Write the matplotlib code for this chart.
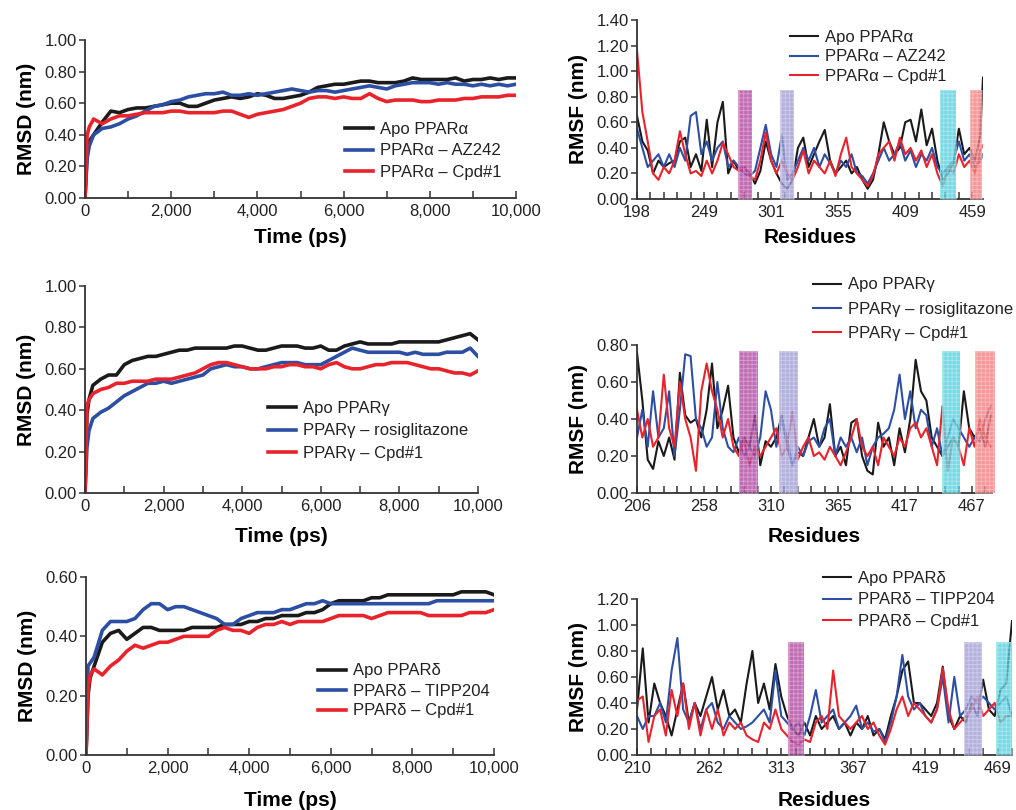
import matplotlib
matplotlib.use("Agg")
import matplotlib.pyplot as plt
from matplotlib.patches import Rectangle
from matplotlib.ticker import MultipleLocator, FixedLocator, FuncFormatter

plt.rcParams['font.family'] = ['Liberation Sans', 'DejaVu Sans']
plt.rcParams['hatch.linewidth'] = 0.6

# ---------------- RMSD data (time in ps) ----------------
t_rmsd = [0, 50, 100, 200, 400, 600, 800, 1000, 1200, 1400,
          1600, 1800, 2000, 2200, 2400, 2600, 2800, 3000, 3200, 3400,
          3600, 3800, 4000, 4200, 4400, 4600, 4800, 5000, 5200, 5400,
          5600, 5800, 6000, 6200, 6400, 6600, 6800, 7000, 7200, 7400,
          7600, 7800, 8000, 8200, 8400, 8600, 8800, 9000, 9200, 9400,
          9600, 9800, 10000]

rmsd_a_apo = [0.00, 0.30, 0.36, 0.40, 0.48, 0.55, 0.54, 0.56, 0.57, 0.57,
              0.58, 0.59, 0.60, 0.60, 0.58, 0.58, 0.60, 0.62, 0.63, 0.64,
              0.63, 0.64, 0.66, 0.65, 0.63, 0.63, 0.64, 0.65, 0.67, 0.70,
              0.71, 0.72, 0.72, 0.73, 0.74, 0.74, 0.73, 0.73, 0.73, 0.74,
              0.76, 0.75, 0.75, 0.75, 0.75, 0.76, 0.74, 0.75, 0.75, 0.76,
              0.75, 0.76, 0.76]
rmsd_a_lig = [0.00, 0.25, 0.33, 0.40, 0.44, 0.45, 0.47, 0.50, 0.52, 0.55,
              0.58, 0.59, 0.61, 0.62, 0.64, 0.65, 0.66, 0.66, 0.67, 0.65,
              0.65, 0.66, 0.65, 0.66, 0.67, 0.68, 0.69, 0.68, 0.67, 0.68,
              0.68, 0.67, 0.68, 0.69, 0.70, 0.71, 0.70, 0.69, 0.71, 0.72,
              0.73, 0.73, 0.73, 0.72, 0.73, 0.72, 0.72, 0.71, 0.72, 0.71,
              0.72, 0.71, 0.72]
rmsd_a_cpd = [0.00, 0.40, 0.45, 0.50, 0.47, 0.50, 0.52, 0.52, 0.53, 0.54,
              0.54, 0.54, 0.55, 0.55, 0.54, 0.54, 0.54, 0.54, 0.55, 0.55,
              0.53, 0.51, 0.53, 0.54, 0.55, 0.56, 0.58, 0.60, 0.63, 0.64,
              0.64, 0.63, 0.64, 0.63, 0.63, 0.66, 0.63, 0.61, 0.62, 0.62,
              0.62, 0.61, 0.61, 0.62, 0.62, 0.62, 0.63, 0.63, 0.64, 0.64,
              0.64, 0.65, 0.65]

rmsd_g_apo = [0.00, 0.38, 0.45, 0.52, 0.55, 0.57, 0.57, 0.62, 0.64, 0.65,
              0.66, 0.66, 0.67, 0.68, 0.69, 0.69, 0.70, 0.70, 0.70, 0.70,
              0.70, 0.71, 0.71, 0.70, 0.69, 0.69, 0.70, 0.71, 0.71, 0.71,
              0.70, 0.70, 0.71, 0.69, 0.69, 0.71, 0.72, 0.73, 0.72, 0.72,
              0.72, 0.72, 0.73, 0.73, 0.73, 0.73, 0.73, 0.73, 0.74, 0.75,
              0.76, 0.77, 0.74]
rmsd_g_lig = [0.00, 0.22, 0.30, 0.36, 0.39, 0.41, 0.44, 0.47, 0.49, 0.51,
              0.53, 0.53, 0.54, 0.53, 0.54, 0.55, 0.56, 0.57, 0.60, 0.61,
              0.62, 0.61, 0.61, 0.60, 0.60, 0.61, 0.62, 0.63, 0.63, 0.63,
              0.62, 0.62, 0.62, 0.64, 0.66, 0.68, 0.70, 0.69, 0.68, 0.68,
              0.68, 0.68, 0.68, 0.67, 0.68, 0.67, 0.67, 0.67, 0.68, 0.68,
              0.68, 0.70, 0.66]
rmsd_g_cpd = [0.00, 0.42, 0.45, 0.48, 0.50, 0.51, 0.53, 0.53, 0.54, 0.54,
              0.54, 0.55, 0.55, 0.55, 0.56, 0.57, 0.58, 0.60, 0.62, 0.63,
              0.63, 0.62, 0.61, 0.60, 0.60, 0.60, 0.61, 0.61, 0.62, 0.62,
              0.61, 0.61, 0.60, 0.62, 0.63, 0.61, 0.60, 0.60, 0.61, 0.62,
              0.62, 0.63, 0.63, 0.63, 0.62, 0.61, 0.60, 0.60, 0.59, 0.58,
              0.58, 0.57, 0.59]

rmsd_d_apo = [0.00, 0.20, 0.26, 0.30, 0.38, 0.41, 0.42, 0.39, 0.41, 0.43,
              0.43, 0.42, 0.42, 0.42, 0.42, 0.43, 0.43, 0.43, 0.43, 0.44,
              0.44, 0.44, 0.45, 0.45, 0.46, 0.46, 0.47, 0.47, 0.47, 0.48,
              0.48, 0.49, 0.51, 0.52, 0.52, 0.52, 0.52, 0.53, 0.53, 0.54,
              0.54, 0.54, 0.54, 0.54, 0.54, 0.54, 0.54, 0.54, 0.55, 0.55,
              0.55, 0.55, 0.54]
rmsd_d_lig = [0.00, 0.30, 0.31, 0.33, 0.42, 0.45, 0.45, 0.45, 0.46, 0.49,
              0.51, 0.51, 0.49, 0.50, 0.50, 0.49, 0.48, 0.47, 0.46, 0.44,
              0.44, 0.46, 0.47, 0.48, 0.48, 0.48, 0.49, 0.49, 0.50, 0.51,
              0.51, 0.52, 0.51, 0.51, 0.51, 0.51, 0.51, 0.51, 0.51, 0.51,
              0.51, 0.51, 0.51, 0.51, 0.51, 0.52, 0.52, 0.52, 0.52, 0.52,
              0.52, 0.52, 0.52]
rmsd_d_cpd = [0.00, 0.22, 0.27, 0.29, 0.27, 0.30, 0.32, 0.35, 0.37, 0.36,
              0.37, 0.38, 0.38, 0.39, 0.40, 0.40, 0.40, 0.40, 0.42, 0.43,
              0.42, 0.42, 0.41, 0.43, 0.44, 0.44, 0.45, 0.44, 0.45, 0.45,
              0.45, 0.45, 0.46, 0.47, 0.47, 0.47, 0.47, 0.46, 0.47, 0.48,
              0.48, 0.48, 0.48, 0.48, 0.47, 0.47, 0.47, 0.47, 0.47, 0.48,
              0.48, 0.48, 0.49]

# ---------------- RMSF data (residue index along the chain) ----------------
idx_a = list(range(0, 257, 4)) + [258]
rmsf_a_apo = [0.65, 0.45, 0.38, 0.20, 0.30, 0.25, 0.28, 0.30, 0.45, 0.48,
              0.25, 0.35, 0.22, 0.62, 0.25, 0.60, 0.76, 0.20, 0.30, 0.22,
              0.25, 0.20, 0.12, 0.22, 0.45, 0.30, 0.20, 0.12, 0.08, 0.15,
              0.40, 0.48, 0.25, 0.35, 0.45, 0.54, 0.30, 0.20, 0.25, 0.30,
              0.20, 0.25, 0.15, 0.08, 0.15, 0.35, 0.60, 0.45, 0.35, 0.40,
              0.60, 0.62, 0.45, 0.70, 0.42, 0.55, 0.30, 0.15, 0.20, 0.28,
              0.55, 0.35, 0.40, 0.30, 0.50, 0.95]
rmsf_a_lig = [0.55, 0.40, 0.25, 0.30, 0.35, 0.25, 0.35, 0.25, 0.40, 0.30,
              0.65, 0.68, 0.35, 0.45, 0.30, 0.40, 0.45, 0.25, 0.30, 0.25,
              0.20, 0.18, 0.22, 0.40, 0.58, 0.35, 0.25, 0.50, 0.15, 0.20,
              0.30, 0.40, 0.30, 0.40, 0.25, 0.35, 0.28, 0.20, 0.30, 0.25,
              0.35, 0.20, 0.18, 0.12, 0.20, 0.30, 0.40, 0.30, 0.35, 0.45,
              0.30, 0.38, 0.25, 0.35, 0.30, 0.40, 0.25, 0.20, 0.25, 0.30,
              0.45, 0.30, 0.35, 0.25, 0.30, 0.35]
rmsf_a_cpd = [1.16, 0.68, 0.45, 0.20, 0.15, 0.25, 0.20, 0.30, 0.53, 0.35,
              0.20, 0.22, 0.18, 0.30, 0.20, 0.30, 0.44, 0.35, 0.25, 0.22,
              0.25, 0.18, 0.15, 0.30, 0.52, 0.30, 0.20, 0.30, 0.20, 0.15,
              0.25, 0.38, 0.20, 0.30, 0.25, 0.20, 0.30, 0.18, 0.35, 0.48,
              0.25, 0.20, 0.15, 0.10, 0.18, 0.35, 0.40, 0.45, 0.30, 0.48,
              0.35, 0.40, 0.30, 0.38, 0.25, 0.35, 0.20, 0.10, 0.25, 0.20,
              0.35, 0.25, 0.30, 0.20, 0.38, 0.42]

idx_g = list(range(0, 265, 4))
rmsf_g_apo = [0.76, 0.50, 0.18, 0.13, 0.28, 0.20, 0.30, 0.18, 0.65, 0.42,
              0.38, 0.40, 0.30, 0.45, 0.70, 0.35, 0.45, 0.58, 0.30, 0.22,
              0.30, 0.25, 0.42, 0.15, 0.28, 0.25, 0.30, 0.42, 0.25, 0.15,
              0.22, 0.20, 0.30, 0.40, 0.25, 0.30, 0.48, 0.20, 0.25, 0.15,
              0.38, 0.40, 0.20, 0.12, 0.10, 0.38, 0.25, 0.30, 0.15, 0.35,
              0.22, 0.40, 0.72, 0.55, 0.50, 0.30, 0.25, 0.20, 0.25, 0.30,
              0.25, 0.55, 0.35, 0.30, 0.35, 0.25, 0.42]
rmsf_g_lig = [0.30, 0.45, 0.25, 0.55, 0.30, 0.35, 0.55, 0.20, 0.45, 0.75,
              0.74, 0.40, 0.35, 0.25, 0.30, 0.60, 0.35, 0.25, 0.22, 0.30,
              0.20, 0.25, 0.20, 0.30, 0.55, 0.45, 0.25, 0.40, 0.30, 0.15,
              0.25, 0.20, 0.28, 0.30, 0.25, 0.35, 0.40, 0.20, 0.30, 0.25,
              0.30, 0.22, 0.30, 0.15, 0.25, 0.30, 0.32, 0.35, 0.45, 0.64,
              0.40, 0.55, 0.35, 0.45, 0.42, 0.25, 0.35, 0.20, 0.30, 0.40,
              0.35, 0.30, 0.25, 0.30, 0.28, 0.40, 0.47]
rmsf_g_cpd = [0.45, 0.30, 0.40, 0.25, 0.30, 0.64, 0.35, 0.25, 0.60, 0.40,
              0.30, 0.12, 0.55, 0.70, 0.55, 0.45, 0.30, 0.40, 0.25, 0.20,
              0.28, 0.15, 0.25, 0.20, 0.25, 0.30, 0.35, 0.20, 0.25, 0.44,
              0.18, 0.25, 0.30, 0.20, 0.22, 0.18, 0.25, 0.20, 0.15, 0.22,
              0.30, 0.40, 0.25, 0.20, 0.25, 0.15, 0.30, 0.25, 0.20, 0.30,
              0.25, 0.35, 0.38, 0.30, 0.35, 0.25, 0.15, 0.47, 0.12, 0.30,
              0.25, 0.15, 0.35, 0.25, 0.40, 0.30, 0.25]

idx_d = list(range(0, 261, 4))
rmsf_d_apo = [0.35, 0.82, 0.25, 0.55, 0.40, 0.30, 0.15, 0.35, 0.55, 0.25,
              0.40, 0.30, 0.45, 0.60, 0.35, 0.50, 0.30, 0.35, 0.25, 0.55,
              0.80, 0.40, 0.55, 0.35, 0.70, 0.45, 0.30, 0.20, 0.15, 0.25,
              0.15, 0.30, 0.20, 0.25, 0.30, 0.20, 0.25, 0.15, 0.25, 0.20,
              0.30, 0.15, 0.20, 0.12, 0.30, 0.45, 0.65, 0.72, 0.40, 0.40,
              0.35, 0.30, 0.40, 0.68, 0.30, 0.20, 0.30, 0.25, 0.40, 0.30,
              0.58, 0.35, 0.30, 0.50, 0.55, 1.03]
rmsf_d_lig = [0.30, 0.20, 0.30, 0.30, 0.40, 0.25, 0.65, 0.90, 0.35, 0.25,
              0.40, 0.20, 0.35, 0.40, 0.25, 0.20, 0.30, 0.25, 0.20, 0.22,
              0.25, 0.30, 0.35, 0.25, 0.65, 0.30, 0.25, 0.20, 0.25, 0.15,
              0.30, 0.50, 0.25, 0.30, 0.35, 0.20, 0.25, 0.30, 0.38, 0.20,
              0.25, 0.18, 0.20, 0.10, 0.25, 0.45, 0.77, 0.45, 0.35, 0.40,
              0.30, 0.25, 0.35, 0.60, 0.25, 0.60, 0.30, 0.35, 0.45, 0.40,
              0.45, 0.40, 0.35, 0.40, 0.45, 0.30]
rmsf_d_cpd = [0.42, 0.45, 0.10, 0.30, 0.35, 0.15, 0.50, 0.30, 0.55, 0.20,
              0.40, 0.15, 0.35, 0.20, 0.35, 0.15, 0.25, 0.20, 0.25, 0.15,
              0.12, 0.10, 0.25, 0.20, 0.35, 0.20, 0.15, 0.10, 0.08, 0.12,
              0.10, 0.25, 0.30, 0.20, 0.65, 0.30, 0.25, 0.20, 0.25, 0.30,
              0.20, 0.25, 0.15, 0.08, 0.20, 0.35, 0.45, 0.30, 0.40, 0.35,
              0.30, 0.25, 0.35, 0.67, 0.35, 0.20, 0.25, 0.30, 0.35, 0.45,
              0.30, 0.35, 0.40, 0.25, 0.30, 0.30]

# residue labels at every 50th position along the chain
res_labels_a = ['198', '249', '301', '355', '409', '459']
res_labels_g = ['206', '258', '310', '365', '417', '467']
res_labels_d = ['210', '262', '313', '367', '419', '469']

# highlighted regions (start, end index)
boxes_a = [(75, 86), (107, 117), (226, 238), (248, 257)]
boxes_g = [(76, 90), (106, 120), (228, 241), (252, 267)]
boxes_d = [(105, 116), (227, 239), (249, 260)]
box_colors_a = ['#b0449f', '#9f9bd6', '#55cfdd', '#f07c7c']
box_colors_g = ['#b0449f', '#9f9bd6', '#55cfdd', '#f07c7c']
box_colors_d = ['#b0449f', '#9f9bd6', '#55cfdd']

labels_a = ['Apo PPARα', 'PPARα – AZ242', 'PPARα – Cpd#1']
labels_g = ['Apo PPARγ', 'PPARγ – rosiglitazone', 'PPARγ – Cpd#1']
labels_d = ['Apo PPARδ', 'PPARδ – TIPP204', 'PPARδ – Cpd#1']

BLACK = '#1a1a1a'
BLUE = '#2d4fa3'
RED = '#e8232b'
AXC = '#333333'

W, H = 1016, 810
fig = plt.figure(figsize=(W / 100, H / 100), dpi=100)


def make_ax(left, right, top, bottom):
    return fig.add_axes([left / W, 1 - bottom / H, (right - left) / W, (bottom - top) / H])


def style(ax):
    for s in ['top', 'right']:
        ax.spines[s].set_visible(False)
    for s in ['left', 'bottom']:
        ax.spines[s].set_color(AXC)
        ax.spines[s].set_linewidth(1.3)
    ax.tick_params(axis='y', direction='out', length=4, width=1.1, colors=AXC,
                   labelsize=12, labelcolor='#222222', pad=2)
    ax.tick_params(axis='x', which='both', direction='in', length=5, width=1.1,
                   colors=AXC, labelsize=12, labelcolor='#222222', pad=4)
    ax.yaxis.set_major_formatter(FuncFormatter(lambda v, p: f'{v:.2f}'))


def add_legend(ax, labels, x_px, y_px, spacing):
    leg = ax.legend(labels, loc='center left', frameon=False, fontsize=12,
                    handlelength=1.65, handletextpad=0.45, labelspacing=spacing,
                    borderpad=0, borderaxespad=0,
                    bbox_to_anchor=(x_px / W, 1 - y_px / H),
                    bbox_transform=fig.transFigure)
    for txt in leg.get_texts():
        txt.set_color('#222222')
    return leg


def rmsd_panel(ax, apo, lig, cpd, ymax, labels, leg_pos, spacing, lpad):
    ax.plot(t_rmsd, apo, color=BLACK, lw=2.6)
    ax.plot(t_rmsd, lig, color=BLUE, lw=2.6)
    ax.plot(t_rmsd, cpd, color=RED, lw=2.6)
    ax.set_xlim(0, 10000)
    ax.set_ylim(0, ymax)
    ax.xaxis.set_major_locator(MultipleLocator(2000))
    ax.xaxis.set_minor_locator(MultipleLocator(1000))
    ax.xaxis.set_major_formatter(FuncFormatter(lambda v, p: f'{int(v):,}'))
    ax.yaxis.set_major_locator(MultipleLocator(0.2))
    style(ax)
    ax.set_ylabel('RMSD (nm)', fontsize=15, fontweight='bold', labelpad=6)
    ax.set_xlabel('Time (ps)', fontsize=15, fontweight='bold', labelpad=lpad)
    add_legend(ax, labels, leg_pos[0], leg_pos[1], spacing)


def rmsf_panel(ax, idx, apo, lig, cpd, xmax, ymax, ticklabels, boxes, colors, box_top,
               labels, leg_pos, spacing, lpad):
    ax.plot(idx, apo, color=BLACK, lw=1.5)
    ax.plot(idx, lig, color=BLUE, lw=1.5)
    ax.plot(idx, cpd, color=RED, lw=1.5)
    for (x0, x1), c in zip(boxes, colors):
        ax.add_patch(Rectangle((x0, 0), x1 - x0, box_top, facecolor=c, alpha=0.78,
                               edgecolor='none', zorder=3, clip_on=False))
        ax.add_patch(Rectangle((x0, 0), x1 - x0, box_top, facecolor='none',
                               edgecolor=(1, 1, 1, 0.35), hatch='++++', lw=0.6,
                               zorder=3.1, clip_on=False))
    ax.set_xlim(0, xmax)
    ax.set_ylim(0, ymax)
    ax.xaxis.set_major_locator(FixedLocator([0, 50, 100, 150, 200, 250]))
    ax.set_xticklabels(ticklabels)
    ax.xaxis.set_minor_locator(MultipleLocator(10))
    ax.yaxis.set_major_locator(MultipleLocator(0.2))
    style(ax)
    ax.set_ylabel('RMSF (nm)', fontsize=15, fontweight='bold', labelpad=6)
    ax.set_xlabel('Residues', fontsize=15, fontweight='bold', labelpad=lpad)
    add_legend(ax, labels, leg_pos[0], leg_pos[1], spacing)


ax1 = make_ax(85, 516, 40, 198)
rmsd_panel(ax1, rmsd_a_apo, rmsd_a_lig, rmsd_a_cpd, 1.0, labels_a, (345, 151), 0.4, 7)

ax2 = make_ax(637, 983, 20, 199)
rmsf_panel(ax2, idx_a, rmsf_a_apo, rmsf_a_lig, rmsf_a_cpd, 258, 1.4, res_labels_a,
           boxes_a, box_colors_a, 0.85, labels_a, (790, 57), 0.25, 6)

ax3 = make_ax(85, 478, 286, 493)
rmsd_panel(ax3, rmsd_g_apo, rmsd_g_lig, rmsd_g_cpd, 1.0, labels_g, (268, 431), 0.45, 10)

ax4 = make_ax(637, 992, 345, 493)
rmsf_panel(ax4, idx_g, rmsf_g_apo, rmsf_g_lig, rmsf_g_cpd, 265, 0.8, res_labels_g,
           boxes_g, box_colors_g, 0.77, labels_g, (813, 309), 0.55, 10)

ax5 = make_ax(86, 494, 577, 755)
rmsd_panel(ax5, rmsd_d_apo, rmsd_d_lig, rmsd_d_cpd, 0.6, labels_d, (318, 691), 0.3, 11)

ax6 = make_ax(637, 1012, 599, 755)
rmsf_panel(ax6, idx_d, rmsf_d_apo, rmsf_d_lig, rmsf_d_cpd, 260, 1.2, res_labels_d,
           boxes_d, box_colors_d, 0.87, labels_d, (823, 600), 0.4, 11)

fig.savefig('out.png', dpi=100)
